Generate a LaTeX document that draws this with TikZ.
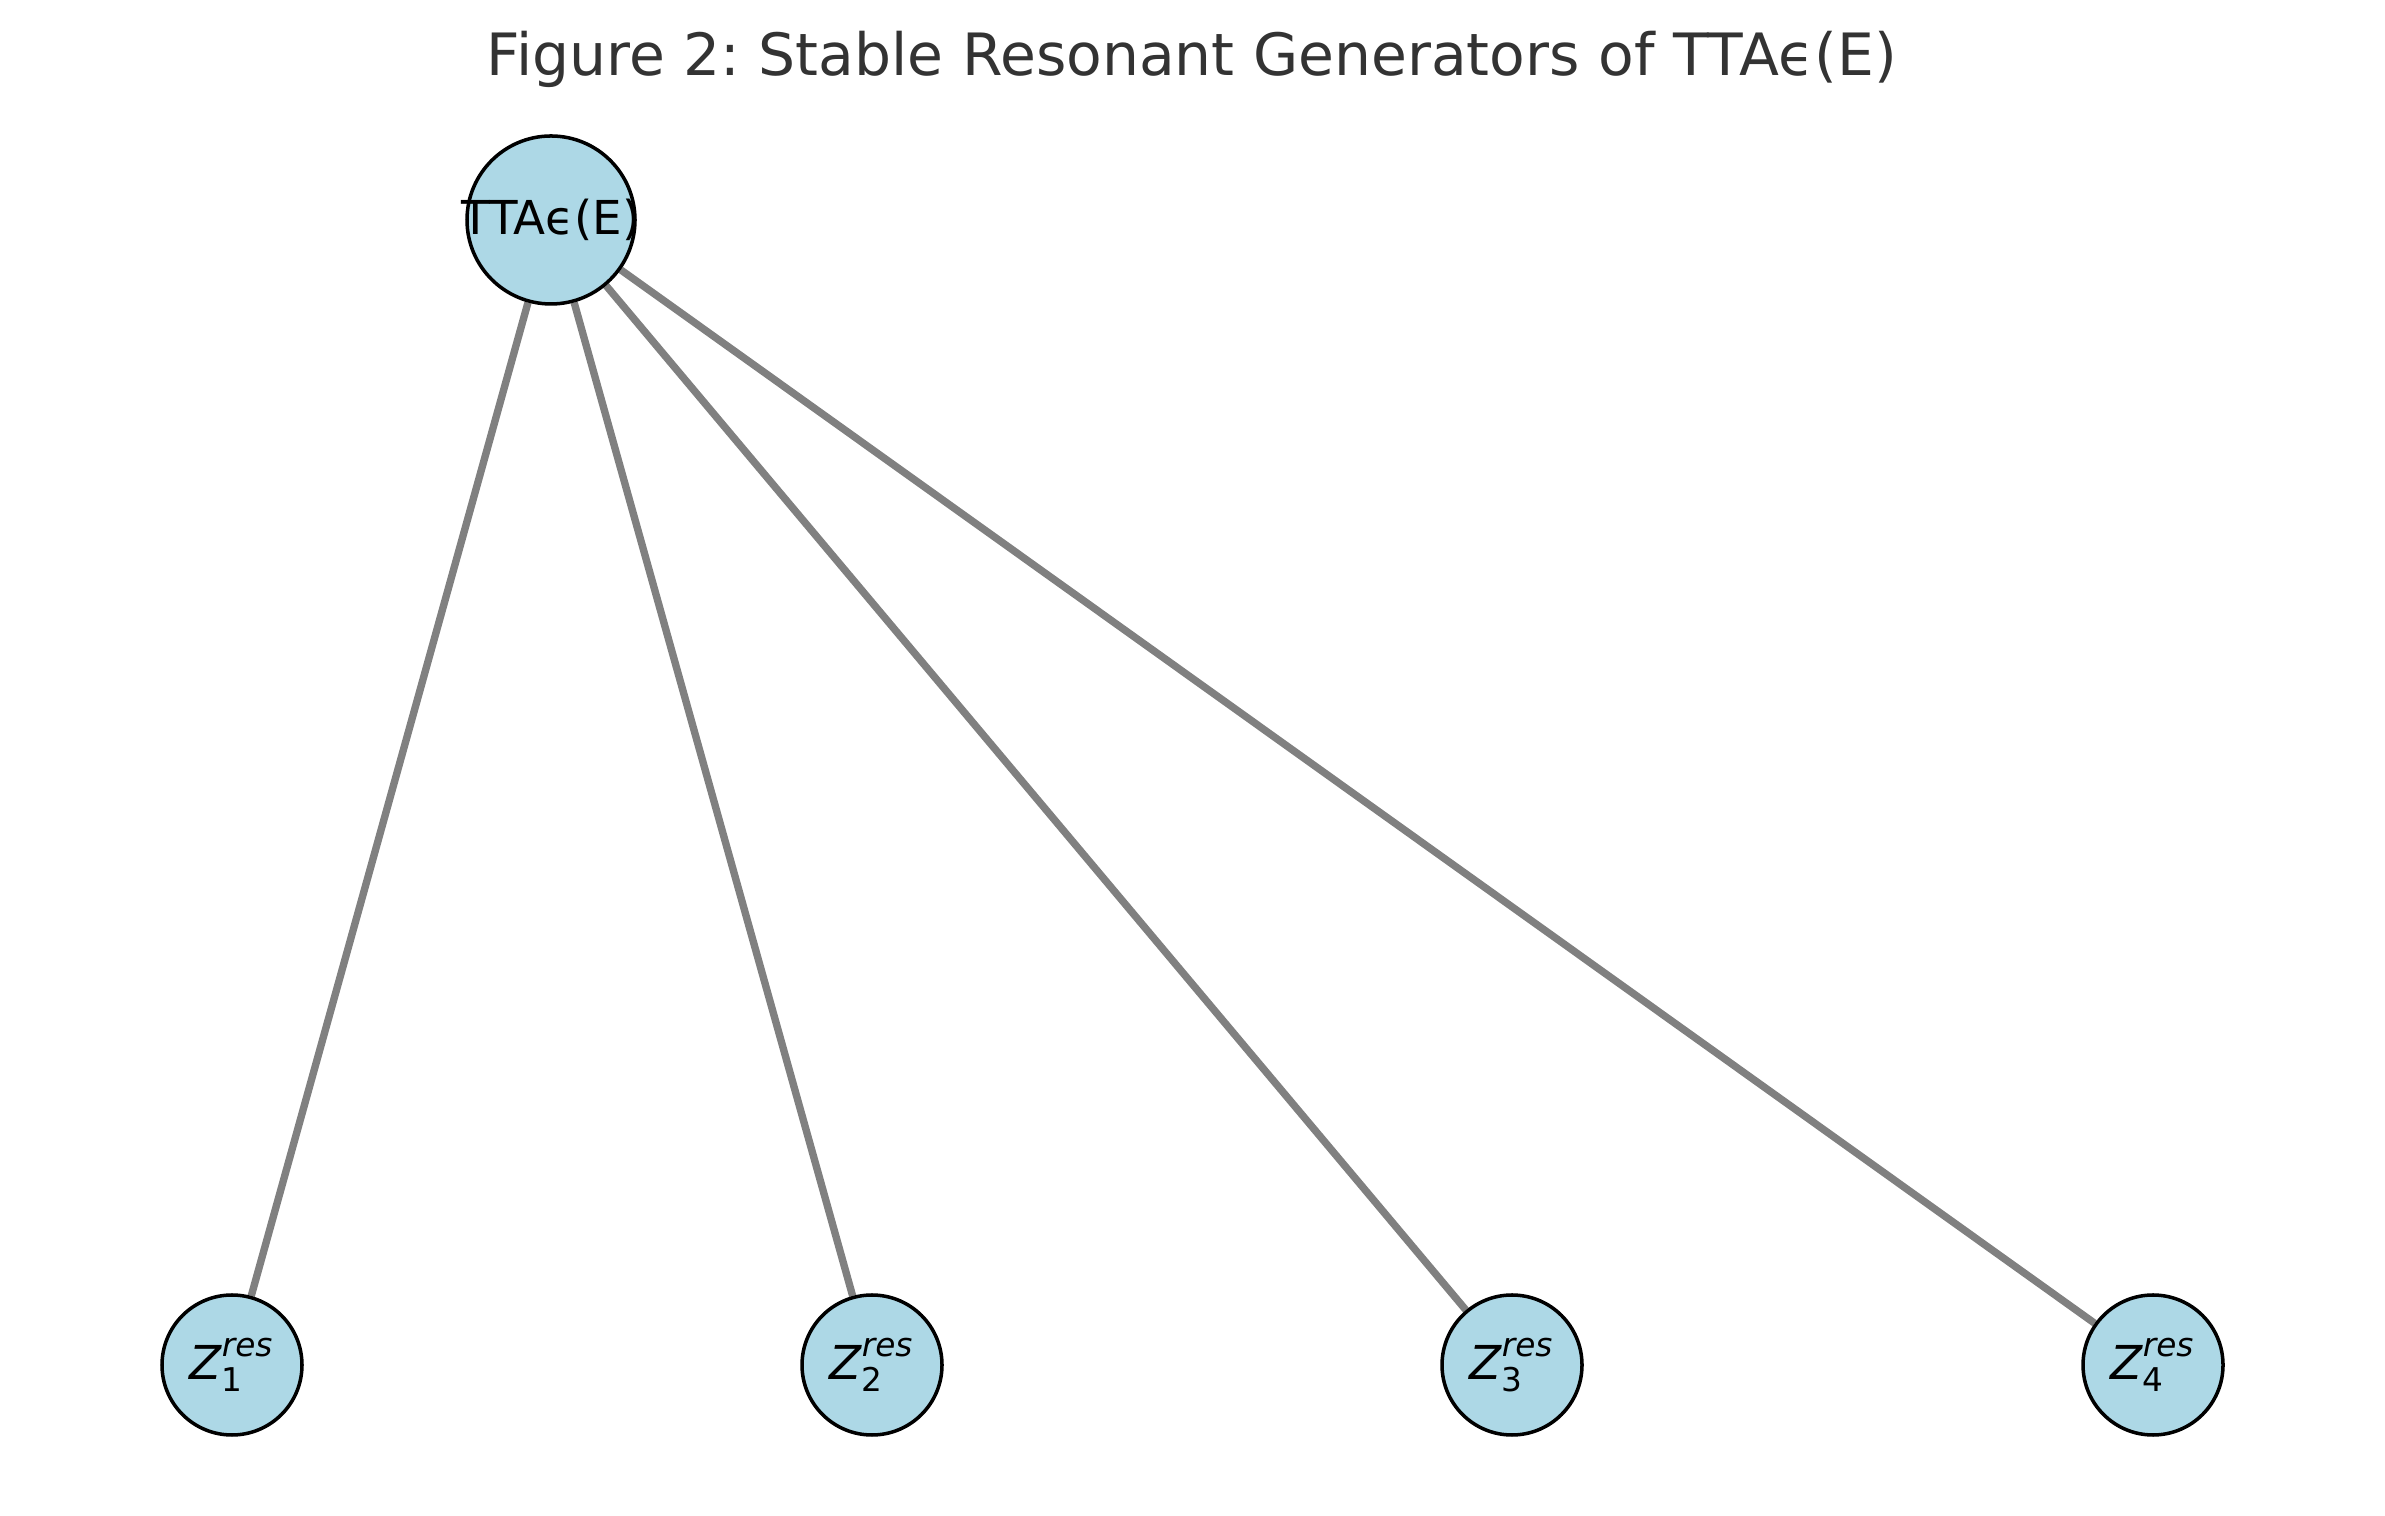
\documentclass[tikz,border=0pt]{standalone}
\usepackage{amsmath}
\usepackage{fontspec}
\setmainfont{DejaVu Sans}
\usepackage{tikz}
\usetikzlibrary{backgrounds}
\frenchspacing

\definecolor{nodeblue}{HTML}{ADD8E6}
\definecolor{titlegray}{HTML}{333333}
\newcommand{\zres}[1]{$\textit{Z}^{\textit{res}}_{\text{#1}}$}

\begin{document}
\begin{tikzpicture}[every node/.style={font=\fontsize{13.3}{16}\selectfont}, g/.style={draw=black, line width=1pt, circle, fill=nodeblue, inner sep=0pt, align=center}, e/.style={draw=gray, line width=2.1pt}]
	\useasboundingbox (0,0) rectangle (23.85,15.16);
	\node[font=\fontsize{16.6}{20}\selectfont, text=titlegray] (title) at (11.92,14.57) {Figure 2: Stable Resonant Generators of TTAϵ(E)};
	\node[g, minimum size=1.68cm] (tta) at (5.51,12.96) {\makebox[0pt]{TTAϵ(E)}};
	\foreach \n/\x in {1/2.32, 2/8.72, 3/15.12, 4/21.53} {\node[g, minimum size=1.40cm] (z\n) at (\x,1.51) {\zres{\n}};}
	\begin{scope}[on background layer]
		\foreach \n in {1,2,3,4} {\draw[e] (tta) -- (z\n);}
	\end{scope}
\end{tikzpicture}
\end{document}
